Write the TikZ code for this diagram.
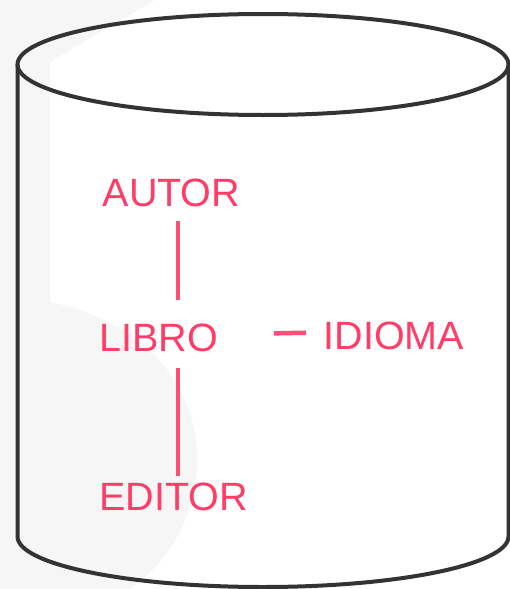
\documentclass[tikz,border=0pt]{standalone}
\usepackage{fontspec}
\setmainfont{Liberation Sans}
\usetikzlibrary{positioning,calc}
\definecolor{dbpink}{HTML}{FF3D67}
\definecolor{dbline}{HTML}{FF4F75}
\definecolor{dbdark}{HTML}{333333}
\definecolor{dbwash}{HTML}{F6F6F6}

\begin{document}
\begin{tikzpicture}[x=1pt,y=-1pt,
  ent/.style={text=dbpink,inner sep=0pt,anchor=base west,
              font=\fontsize{39.5}{46}\selectfont},
  link/.style={draw=dbline,line width=4.5pt},
  rim/.style={draw=dbdark,line width=4pt}]

  \useasboundingbox (0,0) rectangle (510,589);
  \fill[dbwash] (0,0) -- (155,0) -- (50,62) -- (50,302)
    .. controls (230,340) and (230,520) .. (130,589) -- (0,589) -- cycle;

  \draw[rim] (263,64.5) ellipse [x radius=245.5, y radius=50.5];
  \draw[rim] (17.5,64.5) -- (17.5,536.5)
    arc[start angle=180, end angle=0, x radius=245.5, y radius=50.5] -- (508.5,64.5);

  \node[ent] (autor) at (102.5,206) {AUTOR};
  \node[ent] (libro) at (99,351) {LIBRO};
  \node[ent] (idioma) at (323.5,349) {IDIOMA};
  \node[ent] (editor) at (99,510) {EDITOR};
  \coordinate (axis) at (178,0);

  \draw[link,shorten <=14pt,shorten >=23pt] (autor.south -| axis) -- (libro.north -| axis);
  \draw[link,shorten <=16.5pt,shorten >=6pt] (libro.south -| axis) -- (editor.north -| axis);
  \draw[link,shorten <=56pt,shorten >=17.5pt] ([yshift=3pt]libro.east) -- ([yshift=3pt]idioma.west);
\end{tikzpicture}
\end{document}
